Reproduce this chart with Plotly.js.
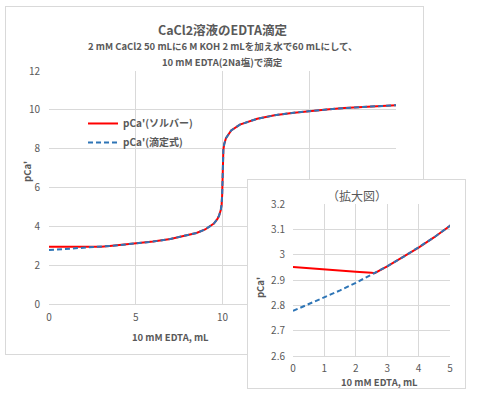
<!DOCTYPE html>
<html>
<head>
<meta charset="utf-8">
<script src="https://cdn.plot.ly/plotly-3.0.1.min.js"></script>
<style>
  html, body { margin: 0; padding: 0; background: #ffffff; }
  #frame { position: absolute; left: 5px; top: 6px; width: 419px; height: 349px; border: 1px solid #d9d9d9; box-sizing: border-box; background: #fff; }
  #main { position: absolute; left: 0; top: 0; width: 477px; height: 397px; }
  #insetBox { position: absolute; left: 247px; top: 179px; width: 219px; height: 210px; border: 1px solid #d9d9d9; box-sizing: border-box; background: #fff; }
  #inset { position: absolute; left: 0; top: 0; width: 217px; height: 208px; }
</style>
</head>
<body>
<div id="frame"></div>
<div id="main"></div>
<div id="insetBox"><div id="inset"></div></div>
<script>
// ---- data ----
const edtaVolume = [0, 0.5, 1, 1.5, 2, 2.5, 2.6, 3, 3.5, 4, 4.5, 5, 6, 7, 8, 8.5, 9, 9.5, 9.7, 9.8, 9.9, 9.95, 9.98, 10, 10.02, 10.05, 10.1, 10.2, 10.5, 11, 12, 13, 14, 15, 16, 17, 18, 19, 20];
const pCaSolver  = [2.951, 2.946, 2.941, 2.937, 2.933, 2.929, 2.927, 2.954, 2.990, 3.028, 3.069, 3.114, 3.217, 3.349, 3.531, 3.660, 3.839, 4.143, 4.37, 4.543, 4.844, 5.13, 5.6, 6.54, 7.5, 7.94, 8.24, 8.54, 8.94, 9.24, 9.54, 9.72, 9.84, 9.94, 10.02, 10.09, 10.14, 10.19, 10.24];
const pCaFormula = [2.778, 2.804, 2.831, 2.859, 2.889, 2.921, 2.927, 2.954, 2.990, 3.028, 3.069, 3.114, 3.217, 3.349, 3.531, 3.660, 3.839, 4.143, 4.37, 4.543, 4.844, 5.13, 5.6, 6.54, 7.5, 7.94, 8.24, 8.54, 8.94, 9.24, 9.54, 9.72, 9.84, 9.94, 10.02, 10.09, 10.14, 10.19, 10.24];
const seriesNames = ["pCa'(ソルバー)", "pCa'(滴定式)"];
const mainXTicks = [0, 5, 10, 15, 20];
const mainYTicks = [0, 2, 4, 6, 8, 10, 12];
const insetXTicks = [0, 1, 2, 3, 4, 5];
const insetYTicks = [2.6, 2.7, 2.8, 2.9, 3, 3.1, 3.2];
const mainTitle = "CaCl2溶液のEDTA滴定";
const subTitle1 = "2 mM CaCl2 50 mLに6 M KOH 2 mLを加え水で60 mLにして、";
const subTitle2 = "10 mM EDTA(2Na塩)で滴定";
const insetTitle = "（拡大図）";
const xTitle = "10 mM EDTA, mL";
const yTitle = "pCa'";

const FONT = "'Noto Sans CJK JP', 'Noto Sans', sans-serif";
const GRAY = "#595959";
const GRID = "#d9d9d9";

function traces(showLegend) {
  return [
    { x: edtaVolume, y: pCaSolver, name: seriesNames[0], type: 'scatter', mode: 'lines',
      line: { color: '#ff0000', width: 2 }, showlegend: showLegend },
    { x: edtaVolume, y: pCaFormula, name: seriesNames[1], type: 'scatter', mode: 'lines',
      line: { color: '#2e75b6', width: 2, dash: '5px,3px' }, showlegend: showLegend }
  ];
}

const mainLayout = {
  width: 477, height: 397,
  margin: { l: 49, r: 81, t: 71, b: 93, pad: 0 },
  paper_bgcolor: 'rgba(0,0,0,0)', plot_bgcolor: 'rgba(0,0,0,0)',
  font: { family: FONT, color: GRAY, size: 10 },
  showlegend: true,
  legend: { x: 0.098, y: 0.837, xanchor: 'left', yanchor: 'top', bgcolor: 'rgba(0,0,0,0)',
            font: { family: FONT, size: 10, color: GRAY, weight: 'bold' }, tracegroupgap: 0 },
  xaxis: { range: [0, 20], tickvals: mainXTicks, showgrid: true, gridcolor: GRID, gridwidth: 1,
           zeroline: false, showline: true, linecolor: GRID, ticks: '', fixedrange: true,
           ticklabelstandoff: 4, tickfont: { size: 10, color: GRAY } },
  yaxis: { range: [0, 12], tickvals: mainYTicks, showgrid: true, gridcolor: GRID, gridwidth: 1,
           zeroline: false, showline: false, ticks: '', fixedrange: true,
           ticklabelstandoff: 8, tickfont: { size: 10, color: GRAY } },
  annotations: [
    { text: '<b>' + mainTitle + '</b>', xref: 'paper', yref: 'paper', x: 0.501, y: 1.180,
      xanchor: 'center', yanchor: 'middle', showarrow: false, font: { size: 12.5, color: GRAY } },
    { text: '<b>' + subTitle1 + '</b>', xref: 'paper', yref: 'paper', x: 0.501, y: 1.107,
      xanchor: 'center', yanchor: 'middle', showarrow: false, font: { size: 9.5, color: GRAY } },
    { text: '<b>' + subTitle2 + '</b>', xref: 'paper', yref: 'paper', x: 0.501, y: 1.039,
      xanchor: 'center', yanchor: 'middle', showarrow: false, font: { size: 9.5, color: GRAY } },
    { text: '<b>' + xTitle + '</b>', xref: 'paper', yref: 'paper', x: 0.349, y: -0.142,
      xanchor: 'center', yanchor: 'middle', showarrow: false, font: { size: 9.5, color: GRAY } },
    { text: '<b>' + yTitle + '</b>', xref: 'paper', yref: 'paper', x: -0.0634, y: 0.567,
      xanchor: 'center', yanchor: 'middle', showarrow: false, textangle: -90, font: { size: 9.5, color: GRAY } }
  ]
};

const insetLayout = {
  width: 217, height: 208,
  margin: { l: 45, r: 15, t: 24, b: 32, pad: 0 },
  paper_bgcolor: '#ffffff', plot_bgcolor: '#ffffff',
  font: { family: FONT, color: GRAY, size: 10 },
  showlegend: false,
  xaxis: { range: [0, 5], tickvals: insetXTicks, showgrid: true, gridcolor: GRID, gridwidth: 1,
           zeroline: false, showline: true, linecolor: GRID, ticks: '', fixedrange: true,
           ticklabelstandoff: 3, tickfont: { size: 10, color: GRAY } },
  yaxis: { range: [2.6, 3.2], tickvals: insetYTicks, showgrid: true, gridcolor: GRID, gridwidth: 1,
           zeroline: false, showline: false, ticks: '', fixedrange: true,
           ticklabelstandoff: 7, tickfont: { size: 10, color: GRAY } },
  annotations: [
    { text: insetTitle, xref: 'paper', yref: 'paper', x: 0.408, y: 1.053,
      xanchor: 'center', yanchor: 'middle', showarrow: false, font: { size: 12, color: GRAY } },
    { text: '<b>' + xTitle + '</b>', xref: 'paper', yref: 'paper', x: 0.554, y: -0.171,
      xanchor: 'center', yanchor: 'middle', showarrow: false, font: { size: 9.5, color: GRAY } },
    { text: '<b>' + yTitle + '</b>', xref: 'paper', yref: 'paper', x: -0.21, y: 0.447,
      xanchor: 'center', yanchor: 'middle', showarrow: false, textangle: -90, font: { size: 9.5, color: GRAY } }
  ]
};

Plotly.newPlot('main', traces(true), mainLayout, { staticPlot: true, displayModeBar: false });
Plotly.newPlot('inset', traces(false), insetLayout, { staticPlot: true, displayModeBar: false });
</script>
</body>
</html>
